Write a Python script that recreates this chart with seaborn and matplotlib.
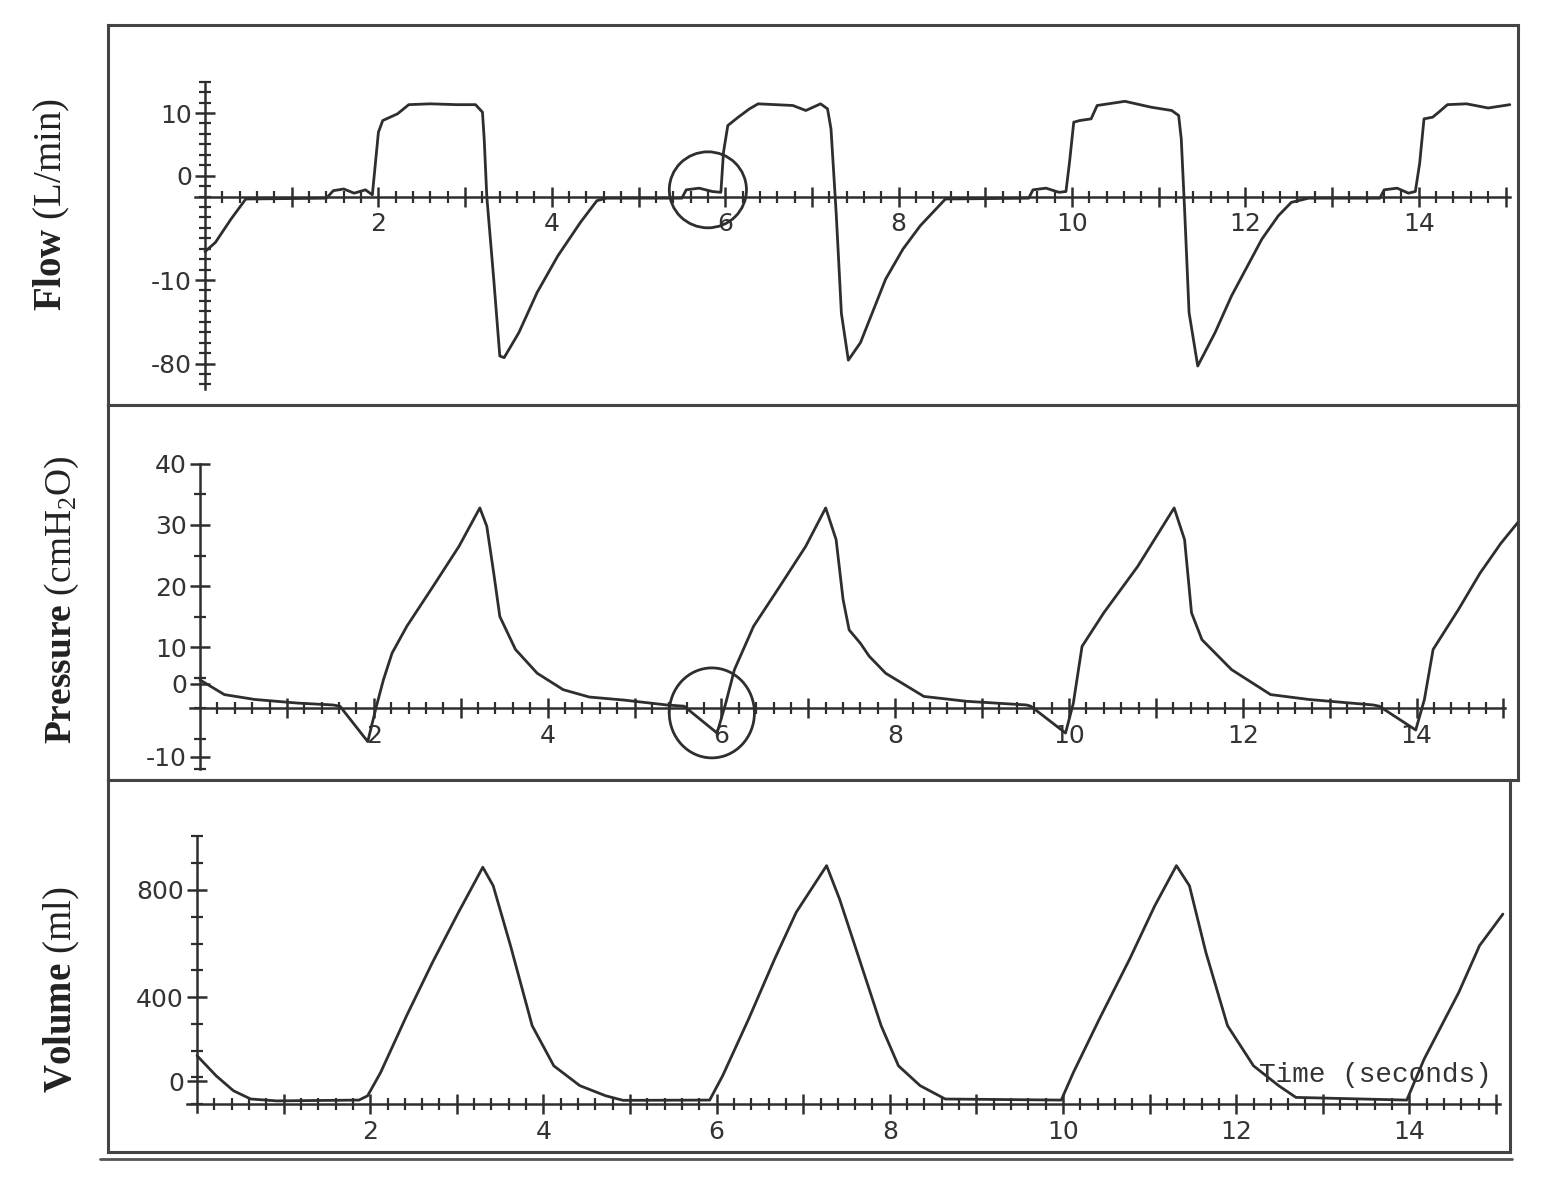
import matplotlib
matplotlib.use("Agg")
import matplotlib.pyplot as plt
import matplotlib.ticker as mticker
from matplotlib.patches import Ellipse
from matplotlib.lines import Line2D
import seaborn as sns
import numpy as np

sns.set_style("white")
plt.rcParams['font.family'] = ['DejaVu Sans']
plt.rcParams['mathtext.fontset'] = 'custom'
plt.rcParams['mathtext.rm'] = 'Liberation Serif'
plt.rcParams['mathtext.it'] = 'Liberation Serif:italic'
plt.rcParams['mathtext.bf'] = 'Liberation Serif:bold'

INK = '#2e2e2e'

# ---- data ----
flow_t = [0.00, 0.12, 0.30, 0.47, 1.40, 1.48, 1.60, 1.72, 1.85, 1.93, 2.00, 2.05,
          2.22, 2.35, 2.60, 2.90, 3.12, 3.20, 3.22, 3.25, 3.33, 3.40, 3.45, 3.62,
          3.83, 4.07, 4.33, 4.52, 4.63, 5.50, 5.55, 5.70, 5.85, 5.95, 5.98, 6.03,
          6.15, 6.28, 6.38, 6.78, 6.93, 7.10, 7.18, 7.22, 7.28, 7.34, 7.42, 7.56,
          7.85, 8.05, 8.25, 8.54, 9.50, 9.55, 9.70, 9.85, 9.93, 9.97, 10.02, 10.09,
          10.22, 10.29, 10.61, 10.91, 11.15, 11.23, 11.26, 11.30, 11.35, 11.45, 11.65,
          11.84, 12.19, 12.38, 12.53, 12.73, 13.55, 13.60, 13.75, 13.88, 13.96, 14.01,
          14.06, 14.16, 14.23, 14.33, 14.55, 14.80, 15.05]
flow_v = [-6.6, -5.5, -2.7, -0.3, -0.2, 0.7, 0.9, 0.4, 0.8, 0.2, 7.7, 9.1,
          9.9, 11.0, 11.1, 11.0, 11.0, 10.1, 6.9, 0.0, -9.9, -19.1, -19.3, -16.3,
          -11.5, -7.1, -3.1, -0.5, -0.2, -0.2, 0.8, 1.0, 0.6, 0.5, 5.3, 8.5,
          9.5, 10.5, 11.1, 10.9, 10.3, 11.1, 10.5, 8.1, -2.0, -14.0, -19.6, -17.5,
          -9.9, -6.3, -3.5, -0.3, -0.2, 0.8, 1.0, 0.5, 0.6, 4.0, 8.9, 9.1,
          9.3, 10.9, 11.4, 10.7, 10.3, 9.7, 6.9, -1.9, -13.9, -20.3, -16.3,
          -11.9, -5.1, -2.3, -0.7, -0.2, -0.2, 0.8, 1.0, 0.4, 0.6, 4.0,
          9.3, 9.5, 10.1, 11.0, 11.1, 10.6, 11.0]

pres_t = [0.00, 0.28, 0.63, 1.13, 1.53, 1.61, 1.93, 2.03, 2.11, 2.21, 2.38, 2.68,
          2.98, 3.22, 3.30, 3.38, 3.45, 3.63, 3.88, 4.18, 4.48, 4.88, 5.37, 5.57,
          5.95, 6.05, 6.15, 6.37, 6.67, 6.97, 7.20, 7.32, 7.40, 7.47, 7.60, 7.70,
          7.89, 8.33, 8.82, 9.51, 9.56, 9.96, 10.05, 10.15, 10.40, 10.79, 11.21,
          11.33, 11.41, 11.53, 11.87, 12.32, 12.76, 13.50, 13.57, 13.99, 14.09,
          14.19, 14.48, 14.73, 14.97, 15.17]
pres_v = [4.6, 2.2, 1.4, 0.8, 0.5, 0.3, -5.5, 0.3, 4.6, 9.0, 13.4, 19.9,
          26.5, 32.8, 29.8, 22.1, 15.0, 9.6, 5.7, 3.0, 1.8, 1.3, 0.5, 0.3,
          -4.1, 0.8, 6.3, 13.4, 19.9, 26.5, 32.8, 27.6, 17.8, 12.8, 10.6, 8.5,
          5.7, 1.9, 1.1, 0.5, 0.3, -4.1, 0.8, 10.1, 15.6, 23.2, 32.8,
          27.6, 15.6, 11.2, 6.3, 2.2, 1.4, 0.5, 0.3, -3.6, 1.4,
          9.6, 16.1, 22.1, 27.0, 30.5]

vol_t = [0.00, 0.22, 0.42, 0.62, 0.92, 1.87, 1.97, 2.12, 2.42, 2.72, 3.02, 3.30,
         3.42, 3.62, 3.87, 4.12, 4.42, 4.72, 4.92, 5.92, 6.07, 6.37, 6.67, 6.92,
         7.27, 7.42, 7.66, 7.90, 8.10, 8.35, 8.64, 9.98, 10.12, 10.42, 10.77,
         11.06, 11.31, 11.46, 11.65, 11.90, 12.20, 12.49, 12.69, 13.97, 14.17,
         14.57, 14.81, 15.08]
vol_v = [181, 106, 50, 19, 12, 15, 31, 118, 330, 530, 717, 885,
         816, 592, 293, 143, 69, 31, 14, 15, 106, 318, 542, 717,
         891, 766, 530, 293, 143, 69, 19, 15, 118, 318, 542,
         741, 891, 816, 567, 293, 143, 69, 25, 15, 168,
         417, 592, 710]

flow_ticks = [10, 2.5, -10, -20]
flow_labels = ['10', '0', '-10', '-80']
pres_ticks = [40, 30, 20, 10, 4, -8]
pres_labels = ['40', '30', '20', '10', '0', '-10']
vol_ticks = [800, 400, 85]
vol_labels = ['800', '400', '0']

W, H = 1548, 1190
fig = plt.figure(figsize=(W / 100, H / 100), dpi=100)
fig.patch.set_facecolor('white')


def rect(x0, y0, x1, y1):
    return [x0 / W, 1 - y1 / H, (x1 - x0) / W, (y1 - y0) / H]


def panel(r, xlim, ylim, t, v, ybounds, yminor, yticks, ylabels, xend):
    fr = fig.add_axes(r, zorder=0)
    fr.set_xticks([])
    fr.set_yticks([])
    for s in fr.spines.values():
        s.set_color('#444444')
        s.set_linewidth(2.2)

    ax = fig.add_axes(r, zorder=1)
    ax.patch.set_alpha(0)
    sns.lineplot(x=t, y=v, ax=ax, color=INK, linewidth=2.0, sort=False,
                 estimator=None)
    ax.set_xlim(*xlim)
    ax.set_ylim(*ylim)
    ax.set_xlabel('')
    ax.set_ylabel('')
    for side in ['top', 'right']:
        ax.spines[side].set_visible(False)
    ax.spines['left'].set_position(('data', 0))
    ax.spines['bottom'].set_position(('data', 0))
    ax.spines['left'].set_bounds(*ybounds)
    ax.spines['bottom'].set_bounds(-0.12, xend)
    for side in ['left', 'bottom']:
        ax.spines[side].set_color(INK)
        ax.spines[side].set_linewidth(1.8)

    ax.xaxis.set_major_locator(mticker.FixedLocator(np.arange(1, 16)))
    ax.xaxis.set_minor_locator(mticker.FixedLocator(np.arange(0.2, xend, 0.2)))
    ax.xaxis.set_major_formatter(mticker.FuncFormatter(
        lambda val, pos: f'{int(round(val))}' if int(round(val)) % 2 == 0 else ''))
    ax.yaxis.set_major_locator(mticker.FixedLocator(yticks))
    ax.yaxis.set_major_formatter(mticker.FixedFormatter(ylabels))
    ax.yaxis.set_minor_locator(mticker.FixedLocator(yminor))

    ax.tick_params(which='both', bottom=True, left=True, top=False, right=False)
    ax.tick_params(which='major', direction='inout', length=15, width=1.8,
                   color=INK, labelcolor='#333333', labelsize=18)
    ax.tick_params(which='minor', direction='inout', length=9, width=1.6,
                   color=INK)
    ax.tick_params(axis='x', which='major', pad=4)
    ax.tick_params(axis='y', which='major', pad=2)
    return ax


ax1 = panel(rect(108, 25, 1518, 405), (-1.119, 15.144), (-24.97, 20.54),
            flow_t, flow_v, (-23, 13.6), np.arange(-22.5, 14, 1.25),
            flow_ticks, flow_labels, 15.05)
ax2 = panel(rect(108, 405, 1518, 780), (-1.059, 15.167), (-11.8, 49.67),
            pres_t, pres_v, (-10, 40), np.arange(-10, 41, 5),
            pres_ticks, pres_labels, 15.02)
ax3 = panel(rect(108, 780, 1510, 1152), (-1.028, 15.162), (-179, 1211),
            vol_t, vol_v, (-30, 1000), np.arange(0, 1001, 100),
            vol_ticks, vol_labels, 15.05)

# hand-drawn circles from the original figure
ax1.add_patch(Ellipse((5.80, 0.8), 0.89, 9.1, fill=False, ec=INK, lw=2.0,
                      clip_on=False))
ax2.add_patch(Ellipse((5.89, -0.8), 0.98, 14.75, fill=False, ec=INK, lw=2.0,
                      clip_on=False))

# double bottom rule of the printout
fig.add_artist(Line2D([100 / W, 1512 / W], [1 - 1159 / H, 1 - 1159 / H],
                      color='#555555', lw=2.0))

# axis titles
fig.text(52 / W, 1 - 205 / H, r"$\mathbf{Flow}$ (L/min)", rotation=90,
         ha='center', va='center', fontsize=28, family='Liberation Serif',
         color='#222222')
fig.text(62 / W, 1 - 600 / H, r"$\mathbf{Pressure}$ (cmH$_2$O)", rotation=90,
         ha='center', va='center', fontsize=27, family='Liberation Serif',
         color='#222222')
fig.text(62 / W, 1 - 990 / H, r"$\mathbf{Volume}$ (ml)", rotation=90,
         ha='center', va='center', fontsize=28, family='Liberation Serif',
         color='#222222')
fig.text(1375 / W, 1 - 1075 / H, "Time (seconds)", ha='center', va='center',
         fontsize=20, family='Liberation Mono', color='#333333')

fig.savefig('out.png', dpi=100, facecolor='white')
